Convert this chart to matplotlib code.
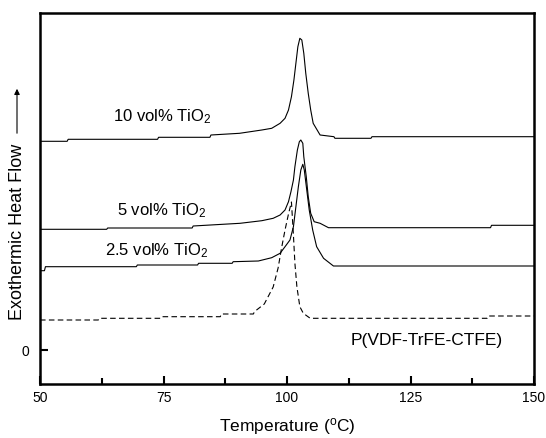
import numpy as np
import matplotlib.pyplot as plt

plt.rcParams['font.family'] = ['Liberation Sans', 'DejaVu Sans']
plt.rcParams['mathtext.default'] = 'regular'

# temperature (C) and heat flow (arb. units, offset curves)
t_10 = [50, 55.5, 55.7, 73.8, 74, 84.4, 84.6, 90.4, 94.9, 96.9, 98.6, 99.6, 100.3, 100.9,
        101.4, 101.8, 102.2, 102.6, 103.0, 103.4, 103.8, 104.3, 104.8, 105.3, 106.7, 109.5,
        109.7, 117.0, 117.2, 150]
y_10 = [20.87, 20.87, 21.07, 21.07, 21.27, 21.27, 21.5, 21.67, 22.0, 22.17, 22.67, 23.17, 24.0,
        25.33, 27.0, 28.67, 30.33, 31.17, 31.0, 29.67, 27.67, 25.67, 24.0, 22.67, 21.5, 21.33,
        21.17, 21.17, 21.33, 21.33]

t_5 = [50, 63.5, 63.7, 80.8, 81.0, 90.5, 94.9, 97.2, 98.6, 99.6, 100.3, 100.8, 101.3, 101.6,
       102.1, 102.5, 102.8, 103.2, 103.4, 103.9, 104.3, 104.8, 105.5, 106.7, 108.4, 141.2,
       141.4, 150]
y_5 = [12.07, 12.07, 12.2, 12.2, 12.4, 12.67, 12.93, 13.17, 13.5, 14.0, 14.83, 15.83, 17.0,
       18.33, 20.0, 20.83, 21.0, 20.67, 19.33, 17.33, 15.33, 13.67, 12.83, 12.67, 12.23, 12.23,
       12.47, 12.47]

t_25 = [50, 50.9, 51.1, 69.5, 69.7, 81.9, 82.1, 88.9, 89.1, 94.2, 96.9, 98.6, 99.6, 100.6,
        101.3, 101.8, 102.3, 102.8, 103.2, 103.5, 104.0, 104.5, 105.2, 106.0, 107.4, 109.4, 150]
y_25 = [7.93, 7.93, 8.33, 8.33, 8.5, 8.5, 8.67, 8.67, 8.83, 8.9, 9.23, 9.67, 10.33, 11.0,
        12.33, 14.33, 16.33, 18.0, 18.57, 18.0, 16.0, 14.0, 12.0, 10.33, 9.17, 8.4, 8.4]

t_0 = [50, 61.8, 62.0, 74.5, 74.7, 86.5, 86.7, 93.2, 93.4, 95.4, 97.2, 98.2, 98.9, 99.6,
       100.3, 100.9, 101.3, 101.6, 102.0, 102.6, 103.3, 104.7, 140.5, 140.7, 150]
y_0 = [3.0, 3.0, 3.17, 3.17, 3.33, 3.33, 3.6, 3.6, 3.83, 4.6, 6.3, 8.2, 10.2, 12.0, 13.6,
       14.8, 11.5, 8.67, 6.33, 4.33, 3.67, 3.17, 3.17, 3.4, 3.4]

fig = plt.figure(figsize=(5.46, 4.38), dpi=100)
ax = fig.add_axes([40/546, 1-384/438, 494/546, 371/438])

ax.plot(t_10, y_10, color='k', lw=0.8)
ax.plot(t_5, y_5, color='k', lw=0.8)
ax.plot(t_25, y_25, color='k', lw=0.8)
ax.plot(t_0, y_0, color='k', lw=0.8, linestyle=(0, (5, 3)))

ax.text(64.8, 22.83, '10 vol% TiO$_2$', fontsize=12)
ax.text(65.5, 13.5, '5 vol% TiO$_2$', fontsize=12)
ax.text(63.1, 9.5, '2.5 vol% TiO$_2$', fontsize=12)
ax.text(112.8, 0.5, 'P(VDF-TrFE-CTFE)', fontsize=12.5)

ax.set_xlim(50, 150)
ax.set_ylim(-3.4, 33.7)
ax.set_xticks([50, 75, 100, 125, 150])
ax.set_xticks([62.5, 87.5, 112.5, 137.5], minor=True)
ax.set_yticks([0])
ax.tick_params(direction='in', width=1.5, length=6, labelsize=10, pad=5)
ax.tick_params(which='minor', direction='in', width=1.5, length=4)
ax.tick_params(axis='y', right=False, pad=8)
for s in ax.spines.values():
    s.set_linewidth(1.8)

ax.set_xlabel('Temperature ($^o$C)', fontsize=12.5, labelpad=8)
fig.text(18/546, 1-231.5/438, 'Exothermic Heat Flow', rotation=90, fontsize=13,
         ha='center', va='center')
fig.patches.append(plt.matplotlib.patches.FancyArrowPatch(
    (17/546, 1-136/438), (17/546, 1-86/438), transform=fig.transFigure,
    arrowstyle='-|>', mutation_scale=8, color='k', lw=0.8))

fig.savefig('out.png', dpi=100)
